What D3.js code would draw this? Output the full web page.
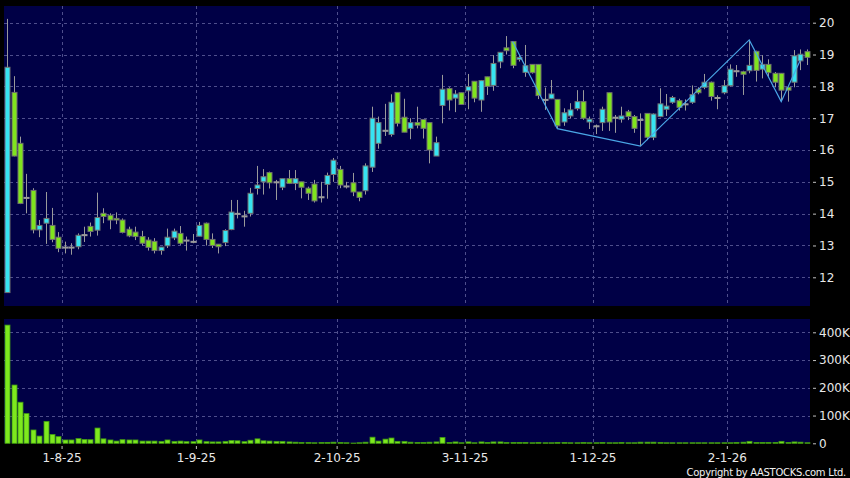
<!DOCTYPE html>
<html>
<head>
<meta charset="utf-8">
<script src="https://cdnjs.cloudflare.com/ajax/libs/d3/7.8.5/d3.min.js"></script>
<style>
  body { margin: 0; background: #000; }
  svg { display: block; }
  .axis text { fill: #e8e8e8; font-family: "DejaVu Sans", sans-serif; font-size: 12px; }
  .axis line { stroke: #c0c0c0; }
  .axis path { display: none; }
</style>
</head>
<body>
<svg id="svg1" width="850" height="478"></svg>
<script>
// daily candles, 21-7-25 .. 20-1-26 (index = trading day)
var open  = [11.52,17.81,16.21,14.51,14.73,13.49,13.70,13.63,13.26,12.95,12.95,12.96,13.34,13.60,13.48,14.01,13.95,13.85,13.80,13.51,
             13.42,13.28,13.17,13.13,12.84,12.99,13.24,13.38,13.17,13.13,13.29,13.70,13.19,13.04,13.09,13.50,14.01,13.93,14.01,14.79,
             15.00,15.29,15.00,14.83,15.10,14.95,15.00,14.80,14.93,14.53,14.92,15.23,15.39,14.87,14.97,14.68,14.72,15.46,16.21,16.62,
             16.49,17.81,17.03,16.68,16.86,16.96,16.86,15.81,17.40,17.93,17.63,17.80,17.86,18.16,17.57,18.30,18.03,18.77,19.21,19.41,
             18.85,18.44,18.69,18.69,17.59,17.61,17.59,16.88,17.07,17.30,17.52,16.88,16.76,16.86,17.80,17.03,16.97,17.20,17.05,16.96,
             17.15,16.40,17.05,17.28,17.50,17.55,17.45,17.50,17.91,17.97,18.13,17.65,17.80,18.02,18.49,18.46,18.49,19.10,18.54,18.69,
             18.41,18.41,17.97,18.13,18.80,19.09];
var high  = [20.12,18.32,16.42,15.25,14.80,13.80,14.68,14.18,13.42,13.12,13.07,13.38,13.59,13.72,14.66,14.17,14.01,14.04,13.85,13.59,
             13.59,13.46,13.26,13.23,12.95,13.53,13.53,13.61,13.28,13.36,13.74,13.72,13.38,13.04,13.51,14.43,14.43,14.09,14.81,15.50,
             15.40,15.32,15.06,15.10,15.37,15.37,15.00,14.85,15.06,15.00,15.29,15.75,15.50,15.00,15.28,14.68,15.58,17.36,17.05,17.45,
             17.75,17.81,17.61,17.00,17.36,16.96,16.86,16.42,18.36,17.97,17.88,17.80,18.39,18.16,18.20,18.30,18.98,19.07,19.58,19.41,
             19.00,19.30,18.69,18.69,17.96,18.20,17.59,17.31,17.47,17.88,17.88,17.05,16.80,17.36,17.80,17.10,17.36,17.26,17.10,17.15,
             17.15,17.15,17.94,17.76,17.70,17.61,17.59,18.03,17.97,18.39,18.15,17.72,18.20,18.69,18.67,18.49,19.46,19.12,18.98,18.85,
             18.45,18.41,17.97,19.14,19.16,19.16];
var low   = [11.52,15.80,14.30,14.01,13.38,13.26,13.05,13.10,12.79,12.75,12.71,12.88,13.11,13.28,13.31,13.70,13.51,13.67,13.38,13.26,
             13.17,13.00,12.84,12.75,12.71,12.92,13.17,13.02,12.84,13.07,13.29,13.00,12.92,12.75,12.98,13.48,13.85,13.59,13.91,14.60,
             14.60,14.79,14.43,14.74,14.93,14.74,14.48,14.43,14.35,14.35,14.47,15.00,14.80,14.79,14.55,14.39,14.60,15.31,16.04,16.44,
             16.42,16.74,16.56,16.34,16.68,16.36,15.58,15.81,16.84,17.24,17.19,17.43,17.28,17.50,17.20,17.73,17.86,18.57,19.00,18.57,
             18.78,18.30,18.40,17.60,17.26,17.60,16.67,16.76,17.00,17.24,16.95,16.66,16.50,16.60,16.60,16.54,16.86,16.94,16.54,16.12,
             16.31,16.31,17.03,17.07,17.45,17.24,17.24,17.45,17.75,17.91,17.55,17.28,17.75,18.00,18.30,17.73,18.41,18.15,18.25,18.30,
             17.97,17.52,17.52,17.97,18.51,18.67];
var close = [18.60,15.81,14.32,14.51,13.49,13.63,13.85,13.19,12.91,12.95,12.95,13.32,13.34,13.44,13.88,13.91,13.80,13.80,13.41,13.30,
             13.28,13.07,12.94,12.84,12.95,13.26,13.45,13.07,13.17,13.13,13.63,13.19,13.00,12.96,13.47,14.05,14.01,13.93,14.64,14.90,
             15.16,14.97,15.00,15.10,14.95,15.10,14.83,14.64,14.40,14.53,15.20,15.68,14.90,14.87,14.68,14.51,15.50,17.00,16.86,16.62,
             17.50,16.84,16.56,16.86,16.78,16.68,16.00,16.23,17.91,17.57,17.76,17.43,17.99,17.63,18.18,18.00,18.72,19.07,19.12,18.66,
             18.91,18.65,18.43,17.71,17.59,17.76,16.76,17.17,17.26,17.52,17.00,16.97,16.76,17.28,16.88,17.03,17.07,17.05,16.68,16.96,
             16.40,17.13,17.45,17.38,17.65,17.34,17.45,17.74,17.80,18.13,17.68,17.65,18.02,18.54,18.49,18.38,18.66,18.50,18.69,18.43,
             18.13,17.88,17.88,18.96,19.01,18.91];
// volume in thousands of shares
var volume = [426,210,148,107,48,26,79,32,24,12,12,17,14,13,55,16,12,8,13,12,
              12,8,8,8,7,12,7,8,6,6,12,6,5,5,7,10,9,6,11,16,
              9,8,7,7,5,4,3,3,2,3,3,4,3,2,1,2,4,22,8,15,
              19,7,7,4,3,3,4,5,21,3,5,2,5,2,5,3,5,5,3,3,
              3,3,2,3,2,2,3,3,2,2,3,2,2,3,2,2,3,2,2,4,
              4,4,3,2,2,2,2,2,2,2,2,2,2,2,3,4,7,3,3,3,
              3,7,3,5,4,2];

var monthIdx    = [9, 30, 52, 72, 92, 113];
var monthLabels = ['1-8-25', '1-9-25', '2-10-25', '3-11-25', '1-12-25', '2-1-26'];
var priceTicks  = [12, 13, 14, 15, 16, 17, 18, 19, 20];
var volTicks    = [0, 100, 200, 300, 400];

// zigzag overlay (index, price)
var zigIdx = [79, 86, 99, 116, 121, 124];
var zigVal = [19.41, 16.67, 16.12, 19.46, 17.52, 18.83];

var upColor = '#36e4f2';
var downColor = '#80e41e';
var gridColor = '#4e4e8c';
var panelColor = '#000046';

var n = close.length;
var left = 4, right = 810;
var priceTop = 6, priceBottom = 306;
var volTop = 319, volBottom = 443;

var svg = d3.select('svg');

var x = d3.scaleLinear().domain([-0.5, n - 0.5]).range([left, right]);
var yP = d3.scaleLinear().domain([12, 20]).range([277.3, 22.7]);
var yV = d3.scaleLinear().domain([0, 400]).range([443.3, 332.3]);

// panels
svg.append('rect').attr('x', left).attr('y', priceTop)
    .attr('width', right - left).attr('height', priceBottom - priceTop).attr('fill', panelColor);
svg.append('rect').attr('x', left).attr('y', volTop)
    .attr('width', right - left).attr('height', volBottom - volTop).attr('fill', panelColor);

// grid
var grid = svg.append('g').attr('stroke', gridColor).attr('stroke-dasharray', '3,3').attr('stroke-width', 1);
grid.selectAll('.hp').data(priceTicks).enter().append('line')
    .attr('x1', left).attr('x2', right)
    .attr('y1', function(d){ return Math.round(yP(d)) + 0.5; })
    .attr('y2', function(d){ return Math.round(yP(d)) + 0.5; });
grid.selectAll('.hv').data(volTicks.slice(1)).enter().append('line')
    .attr('x1', left).attr('x2', right)
    .attr('y1', function(d){ return Math.round(yV(d)) + 0.5; })
    .attr('y2', function(d){ return Math.round(yV(d)) + 0.5; });
monthIdx.forEach(function(m){
    var gx = Math.round(x(m - 0.5)) + 0.5;
    grid.append('line').attr('x1', gx).attr('x2', gx).attr('y1', priceTop).attr('y2', priceBottom);
    grid.append('line').attr('x1', gx).attr('x2', gx).attr('y1', volTop).attr('y2', volBottom);
});

var idx = d3.range(n);

// wicks
svg.append('g').selectAll('line').data(idx).enter().append('line')
    .attr('x1', function(i){ return Math.round(x(i)) + 0.5; })
    .attr('x2', function(i){ return Math.round(x(i)) + 0.5; })
    .attr('y1', function(i){ return yP(high[i]); })
    .attr('y2', function(i){ return yP(low[i]); })
    .attr('stroke', '#9a9a9a')
    .attr('stroke-width', 1);

// bodies
svg.append('g').selectAll('rect').data(idx).enter().append('rect')
    .attr('x', function(i){ return Math.round(x(i)) - 2; })
    .attr('width', 5)
    .attr('y', function(i){ return yP(Math.max(open[i], close[i])); })
    .attr('height', function(i){ return Math.max(1, Math.abs(yP(open[i]) - yP(close[i]))); })
    .attr('fill', function(i){
        if (close[i] > open[i]) return upColor;
        if (close[i] < open[i]) return downColor;
        return '#9a9a9a';
    })
    .attr('stroke', function(i){ return close[i] == open[i] ? '#9a9a9a' : '#6f6f6f'; })
    .attr('stroke-width', 1);

// zigzag
svg.append('path')
    .datum(d3.range(zigIdx.length))
    .attr('d', d3.line()
        .x(function(k){ return x(zigIdx[k]); })
        .y(function(k){ return yP(zigVal[k]); }))
    .attr('fill', 'none')
    .attr('stroke', '#4aa6e6')
    .attr('stroke-width', 1.2);

// volume bars
svg.append('g').selectAll('rect').data(idx).enter().append('rect')
    .attr('x', function(i){ return Math.round(x(i)) - 2; })
    .attr('width', 5)
    .attr('y', function(i){ return yV(volume[i]); })
    .attr('height', function(i){ return yV(0) - yV(volume[i]); })
    .attr('fill', '#7ee81e')
    .attr('stroke', '#3f9a12')
    .attr('stroke-width', 0.8);

// axes
svg.append('g').attr('class', 'axis')
    .attr('transform', 'translate(813,0)')
    .call(d3.axisRight(yP).tickValues(priceTicks).tickSize(3).tickPadding(3));

svg.append('g').attr('class', 'axis')
    .attr('transform', 'translate(813,0)')
    .call(d3.axisRight(yV).tickValues(volTicks).tickSize(3).tickPadding(3)
        .tickFormat(function(d){ return d == 0 ? '0' : d + 'K'; }));

svg.append('g').attr('class', 'axis')
    .attr('transform', 'translate(0,446)')
    .call(d3.axisBottom(x).tickValues(monthIdx.map(function(m){ return m - 0.5; }))
        .tickSize(3).tickPadding(4.5)
        .tickFormat(function(d, k){ return monthLabels[k]; }));

svg.append('text')
    .attr('x', 846).attr('y', 476)
    .attr('text-anchor', 'end')
    .attr('fill', '#f0f0f0')
    .attr('font-family', 'DejaVu Sans, sans-serif')
    .attr('font-size', 10)
    .attr('letter-spacing', '-0.3')
    .text('Copyright by AASTOCKS.com Ltd.');
</script>
</body>
</html>
